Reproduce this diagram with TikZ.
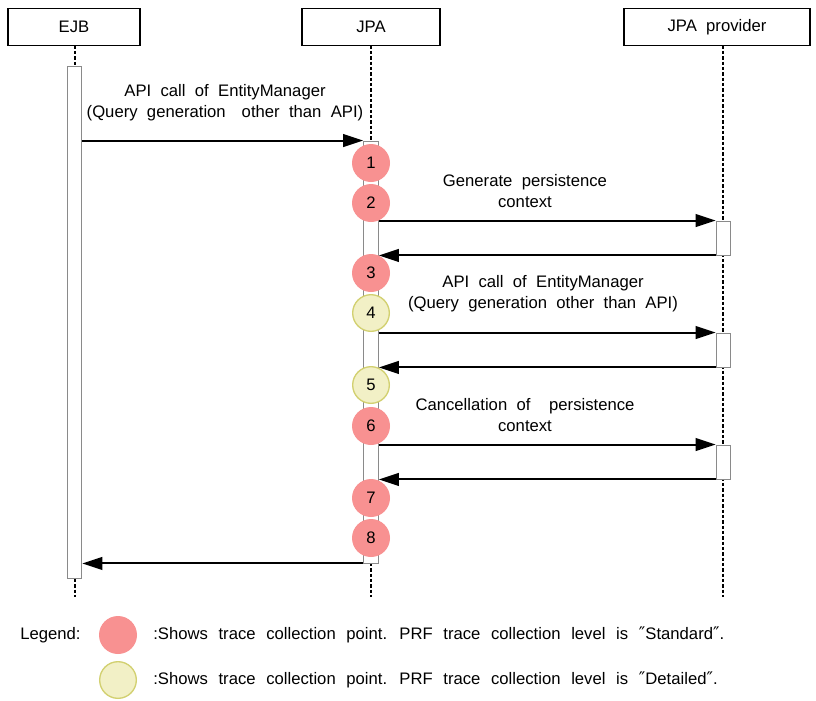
\documentclass[tikz,border=0pt]{standalone}
\usepackage{fontspec}
\setmainfont{Liberation Sans}
\newfontfamily\djv{DejaVu Sans}
\usetikzlibrary{arrows.meta}
\definecolor{stdred}{HTML}{F89191}
\definecolor{detfill}{HTML}{F2F0C6}
\definecolor{detline}{HTML}{D2D070}
\definecolor{bargray}{HTML}{8A8A8A}
\newcommand{\dq}{{\djv\fontsize{13}{15}\selectfont ″}}
\newcommand{\nodefont}{\fontsize{12.5}{15.75}\selectfont\spaceskip 7pt plus 1pt minus 1pt\relax}
\newcommand{\legfont}{\fontsize{12.5}{15.75}\selectfont\spaceskip 8pt plus 1pt minus 1pt\relax}
\begin{document}
\begin{tikzpicture}[x=0.75pt,y=-0.75pt,
  every node/.style={font=\nodefont, inner sep=0pt},
  head/.style={draw, line width=0.9pt, fill=white, minimum height=27.75pt},
  life/.style={line width=1.5pt, dash pattern=on 2.5pt off 1.5pt},
  actbar/.style={draw=bargray, fill=white, line width=0.7pt, minimum width=11pt},
  msg/.style={line width=1.5pt, -{Triangle[length=15pt,width=9.5pt]}},
  stdpt/.style={circle, fill=stdred, minimum size=28.5pt},
  detpt/.style={circle, fill=detfill, draw=detline, line width=1pt, minimum size=27.5pt},
  lbl/.style={align=center},
  legtext/.style={anchor=west, font=\legfont}
]
\useasboundingbox (0,0) rectangle (816,700);
\fill[white] (0,0) rectangle (816,700);

% headers
\node[head, minimum width=99pt] (ejb) at (74,27) {EJB};
\node[head, minimum width=103.5pt] (jpa) at (371,27) {JPA};
\node[head, minimum width=139.5pt] (prov) at (717,27) {JPA provider};

% lifeline end points
\coordinate (ejbtop) at (74.5,45.5);
\coordinate (ejbbot) at (74.5,597);
\coordinate (jpatop) at (371,45.5);
\coordinate (jpabot) at (371,597);
\coordinate (provtop) at (723,45.5);
\coordinate (provbot) at (723,597);
\draw[life] (ejbtop) -- (ejbbot);
\draw[life] (jpatop) -- (jpabot);
\draw[life] (provtop) -- (provbot);

% activation bars
\node[actbar, minimum height=384pt] (ejbbar) at (74.5,322) {};
\node[actbar, minimum height=316.5pt] (jpabar) at (371,352) {};
\node[actbar, minimum height=25.5pt] (pb1) at (723.5,238) {};
\node[actbar, minimum height=25.5pt] (pb2) at (723.5,350) {};
\node[actbar, minimum height=25.5pt] (pb3) at (723.5,462) {};

% messages
\draw[msg] (ejbbar.east |- jpabar.north) -- (jpabar.north west);
\draw[msg] (jpabar.east |- pb1.north) -- (pb1.north west);
\draw[msg] (pb1.south west) -- (jpabar.east |- pb1.south);
\draw[msg] (jpabar.east |- pb2.north) -- (pb2.north west);
\draw[msg] (pb2.south west) -- (jpabar.east |- pb2.south);
\draw[msg] (jpabar.east |- pb3.north) -- (pb3.north west);
\draw[msg] (pb3.south west) -- (jpabar.east |- pb3.south);
\draw[msg] (jpabar.south west) -- (ejbbar.east |- jpabar.south);

% labels
\node[lbl] (l1) at (225,103) {API call of EntityManager\\(Query generation\hspace{5pt} other than API)};
\node[lbl] (l2) at (525,191) {Generate persistence\\context};
\node[lbl] (l4) at (543,294) {API call of EntityManager\\(Query generation other than API)};
\node[lbl] (l6) at (525,415) {Cancellation of\hspace{7pt} persistence\\context};

% trace points
\node[stdpt] (p1) at (371,163) {1};
\node[stdpt] (p2) at (371,203) {2};
\node[stdpt] (p3) at (371,273) {3};
\node[detpt] (p4) at (371,313) {4};
\node[detpt] (p5) at (371,385) {5};
\node[stdpt] (p6) at (371,426) {6};
\node[stdpt] (p7) at (371,498) {7};
\node[stdpt] (p8) at (371,538) {8};

% legend
\node[anchor=west] (leg) at (20,635) {Legend:};
\node[stdpt] (lg1) at (118,635) {};
\node[detpt] (lg2) at (118,680) {};
\node[legtext] (lt1) at (153,635) {:Shows trace collection point. PRF trace collection level is \dq Standard\dq.};
\node[legtext] (lt2) at (153,680) {:Shows trace collection point. PRF trace collection level is \dq Detailed\dq.};
\end{tikzpicture}
\end{document}
